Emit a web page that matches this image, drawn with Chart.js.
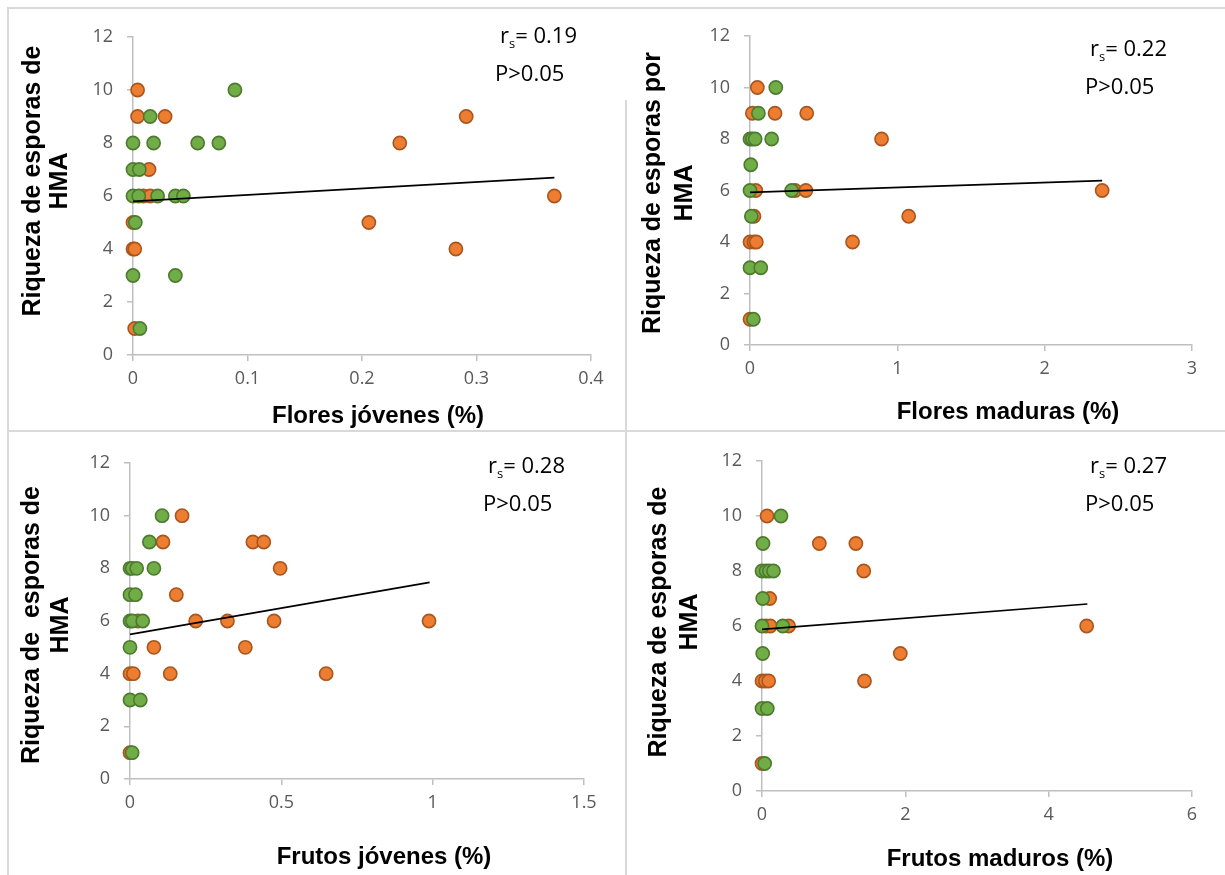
<!DOCTYPE html>
<html>
<head>
<meta charset="utf-8">
<script src="https://cdn.jsdelivr.net/npm/chart.js@4.4.1/dist/chart.umd.min.js"></script>
<style>
	body { margin: 0; background: #fff; width: 1225px; height: 875px; position: relative; overflow: hidden; }
	.panel { position: absolute; }
	.rule { position: absolute; background: #d9d9d9; }
</style>
</head>
<body>
<div class="rule" style="left:8px;top:7px;width:1217px;height:2px"></div>
<div class="rule" style="left:7px;top:7px;width:2px;height:868px"></div>
<div class="rule" style="left:8px;top:430px;width:1217px;height:2px"></div>
<div class="rule" style="left:625px;top:100px;width:2px;height:775px"></div>

<canvas id="p1" class="panel" width="616" height="421" style="left:9px;top:9px"></canvas>
<canvas id="p2" class="panel" width="598" height="421" style="left:627px;top:9px"></canvas>
<canvas id="p3" class="panel" width="616" height="443" style="left:9px;top:432px"></canvas>
<canvas id="p4" class="panel" width="598" height="443" style="left:627px;top:432px"></canvas>

<script>
const yTicks = [0, 2, 4, 6, 8, 10, 12]

// Flores jóvenes
const fjTicks = [0, 0.1, 0.2, 0.3, 0.4]
const fjTickLabels = ['0', '0.1', '0.2', '0.3', '0.4']
const fjOrangeX = [0.004, 0.004, 0.028, 0.014, 0.009, 0.015, 0, 0, 0.0015, 0.0015, 0.233, 0.291, 0.206, 0.282, 0.368]
const fjOrangeY = [10, 9, 9, 7, 6, 6, 5, 4, 4, 1, 8, 9, 5, 4, 6]
const fjGreenX = [0.089, 0.015, 0, 0.018, 0.0565, 0.075, 0, 0.0055, 0, 0.005, 0.0215, 0.037, 0.044, 0.002, 0, 0.037, 0.006]
const fjGreenY = [10, 9, 8, 8, 8, 8, 7, 7, 6, 6, 6, 6, 6, 5, 3, 3, 1]
const fjTrendX = [0, 0.368]
const fjTrendY = [5.8, 6.69]

// Flores maduras
const fmTicks = [0, 1, 2, 3]
const fmTickLabels = ['0', '1', '2', '3']
const fmOrangeX = [0.05, 0.016, 0.17, 0.385, 0.893, 0.039, 0.306, 0.379, 2.39, 0.027, 1.077, 0, 0.027, 0.043, 0.696, 0]
const fmOrangeY = [10, 9, 9, 9, 8, 6, 6, 6, 6, 5, 5, 4, 4, 4, 4, 1]
const fmGreenX = [0.175, 0.057, 0, 0.016, 0.035, 0.147, 0.005, 0, 0.283, 0.009, 0, 0.073, 0.023]
const fmGreenY = [10, 9, 8, 8, 8, 8, 7, 6, 6, 5, 3, 3, 1]
const fmTrendX = [0, 2.39]
const fmTrendY = [5.93, 6.38]

// Frutos jóvenes
const frjTicks = [0, 0.5, 1, 1.5]
const frjTickLabels = ['0', '0.5', '1', '1.5']
const frjOrangeX = [0.172, 0.109, 0.406, 0.442, 0.496, 0.153, 0.026, 0.217, 0.322, 0.476, 0.988, 0.079, 0.381, 0, 0.011, 0.133, 0.648, 0]
const frjOrangeY = [10, 9, 9, 9, 8, 7, 6, 6, 6, 6, 6, 5, 5, 4, 4, 4, 4, 1]
const frjGreenX = [0.106, 0.064, 0, 0.007, 0.022, 0.079, 0, 0.018, 0, 0.008, 0.042, 0, 0, 0.034, 0.007]
const frjGreenY = [10, 9, 8, 8, 8, 8, 7, 7, 6, 6, 6, 5, 3, 3, 1]
const frjTrendX = [0, 0.99]
const frjTrendY = [5.49, 7.47]

// Frutos maduros
const frmTicks = [0, 2, 4, 6]
const frmTickLabels = ['0', '2', '4', '6']
const frmOrangeX = [0.07, 0.8, 1.31, 1.42, 0.107, 0.056, 0.116, 0.371, 4.53, 1.93, 0, 0.046, 0.093, 1.43, 0]
const frmOrangeY = [10, 9, 9, 8, 7, 6, 6, 6, 6, 5, 4, 4, 4, 4, 1]
const frmGreenX = [0.265, 0.014, 0, 0.056, 0.102, 0.16, 0.01, 0, 0.29, 0.01, 0, 0.074, 0.037]
const frmGreenY = [10, 9, 8, 8, 8, 8, 7, 6, 6, 5, 3, 3, 1]
const frmTrendX = [0, 4.54]
const frmTrendY = [5.88, 6.8]

const toPoints = (xs, ys) => xs.map((x, i) => ({ x, y: ys[i] }))

const tickFont = { family: '"Open Sans", "DejaVu Sans", sans-serif', size: 18 }
const axisGray = '#bfbfbf'

// axis titles and the r_s / P annotation, drawn as plain canvas text
const panelText = {
	id: 'panelText',
	afterDraw(chart, args, o) {
		const ctx = chart.ctx
		ctx.save()
		ctx.fillStyle = '#000'
		ctx.textAlign = 'center'
		ctx.textBaseline = 'middle'
		ctx.font = 'bold 24px "Liberation Sans", Arial, sans-serif'
		ctx.fillText(o.xTitle, o.xTitleAt[0], o.xTitleAt[1])
		ctx.font = 'bold 25px "Liberation Sans", Arial, sans-serif'
		o.yTitle.forEach((line, i) => {
			ctx.save()
			ctx.translate(o.yTitleX[i], o.yTitleY)
			ctx.rotate(-Math.PI / 2)
			ctx.fillText(line, 0, 0)
			ctx.restore()
		})
		ctx.textAlign = 'left'
		const big = '22px "Open Sans", "DejaVu Sans", sans-serif'
		const small = '13px "Open Sans", "DejaVu Sans", sans-serif'
		let [x, y] = o.rsAt
		ctx.font = big
		ctx.fillText('r', x, y)
		x += ctx.measureText('r').width
		ctx.font = small
		ctx.fillText('s', x, y + 7)
		x += ctx.measureText('s').width
		ctx.font = big
		ctx.fillText('= ' + o.rs, x, y)
		ctx.fillText('P>0.05', o.pAt[0], o.pAt[1])
		ctx.restore()
	},
}

function makePanel(id, p) {
	new Chart(document.getElementById(id), {
		type: 'scatter',
		data: {
			datasets: [
				{
					data: toPoints(p.trendX, p.trendY),
					showLine: true,
					borderColor: '#000',
					borderWidth: 1.7,
					pointRadius: 0,
					clip: false,
					order: 0,
				},
				{
					data: toPoints(p.greenX, p.greenY),
					backgroundColor: '#70AD47',
					borderColor: '#4E7A2F',
					borderWidth: 1.6,
					pointRadius: 6.6,
					clip: false,
					order: 1,
				},
				{
					data: toPoints(p.orangeX, p.orangeY),
					backgroundColor: '#ED7D31',
					borderColor: '#A9561E',
					borderWidth: 1.6,
					pointRadius: 6.6,
					clip: false,
					order: 2,
				},
			],
		},
		options: {
			responsive: false,
			animation: false,
			layout: { padding: { left: 0, top: p.pad[0], right: p.pad[1], bottom: 0 } },
			plugins: {
				legend: { display: false },
				tooltip: { enabled: false },
				panelText: p.text,
			},
			scales: {
				x: {
					type: 'linear',
					min: p.xTicks[0],
					max: p.xTicks[p.xTicks.length - 1],
					afterBuildTicks: (s) => {
						s.ticks = p.xTicks.map((v) => ({ value: v }))
					},
					afterFit: (s) => {
						s.height = p.axisSize[1]
					},
					ticks: {
						font: tickFont,
						color: '#595959',
						padding: 7,
						maxRotation: 0,
						callback: (v, i) => p.xLabels[i],
					},
					grid: { drawOnChartArea: false, drawTicks: true, tickLength: 6, color: axisGray, lineWidth: 1.5 },
					border: { color: axisGray, width: 1.5 },
				},
				y: {
					type: 'linear',
					min: 0,
					max: 12,
					afterBuildTicks: (s) => {
						s.ticks = yTicks.map((v) => ({ value: v }))
					},
					afterFit: (s) => {
						s.width = p.axisSize[0]
					},
					ticks: {
						font: tickFont,
						color: '#595959',
						padding: 14,
						callback: (v) => String(v),
					},
					grid: { drawOnChartArea: false, drawTicks: true, tickLength: 6, color: axisGray, lineWidth: 1.5 },
					border: { color: axisGray, width: 1.5 },
				},
			},
		},
		plugins: [panelText],
	})
}

makePanel('p1', {
	xTicks: fjTicks, xLabels: fjTickLabels,
	orangeX: fjOrangeX, orangeY: fjOrangeY, greenX: fjGreenX, greenY: fjGreenY,
	trendX: fjTrendX, trendY: fjTrendY,
	axisSize: [124, 75], pad: [28, 34],
	text: {
		xTitle: 'Flores jóvenes (%)', xTitleAt: [369, 407],
		yTitle: ['Riqueza de esporas de', 'HMA'], yTitleX: [24, 51], yTitleY: 172,
		rs: '0.19', rsAt: [491, 28], pAt: [486, 66],
	},
})

makePanel('p2', {
	xTicks: fmTicks, xLabels: fmTickLabels,
	orangeX: fmOrangeX, orangeY: fmOrangeY, greenX: fmGreenX, greenY: fmGreenY,
	trendX: fmTrendX, trendY: fmTrendY,
	axisSize: [123, 85], pad: [27, 33],
	text: {
		xTitle: 'Flores maduras (%)', xTitleAt: [381, 403],
		yTitle: ['Riqueza de esporas por', 'HMA'], yTitleX: [26, 58], yTitleY: 184,
		rs: '0.22', rsAt: [463, 41], pAt: [458, 79],
	},
})

makePanel('p3', {
	xTicks: frjTicks, xLabels: frjTickLabels,
	orangeX: frjOrangeX, orangeY: frjOrangeY, greenX: frjGreenX, greenY: frjGreenY,
	trendX: frjTrendX, trendY: frjTrendY,
	axisSize: [121, 96], pad: [31, 41],
	text: {
		xTitle: 'Frutos jóvenes (%)', xTitleAt: [375, 425],
		yTitle: ['Riqueza de  esporas de', 'HMA'], yTitleX: [23, 52], yTitleY: 193,
		rs: '0.28', rsAt: [479, 35], pAt: [474, 73],
	},
})

makePanel('p4', {
	xTicks: frmTicks, xLabels: frmTickLabels,
	orangeX: frmOrangeX, orangeY: frmOrangeY, greenX: frmGreenX, greenY: frmGreenY,
	trendX: frmTrendX, trendY: frmTrendY,
	axisSize: [135, 84], pad: [29, 33],
	text: {
		xTitle: 'Frutos maduros (%)', xTitleAt: [373, 427],
		yTitle: ['Riqueza de esporas de', 'HMA'], yTitleX: [32, 63], yTitleY: 190,
		rs: '0.27', rsAt: [463, 35], pAt: [458, 73],
	},
})
</script>
</body>
</html>
